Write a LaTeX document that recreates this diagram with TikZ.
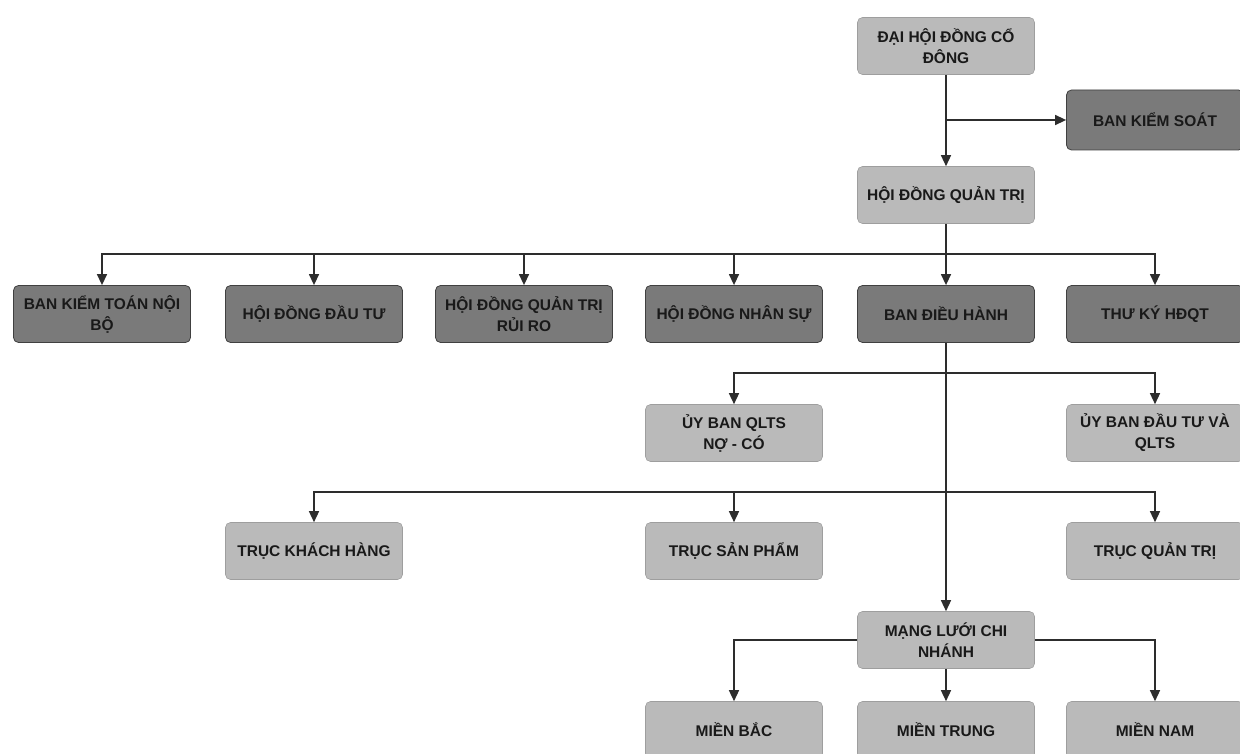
\documentclass[tikz,border=0pt]{standalone}
\usepackage{fontspec}
\setmainfont{Liberation Sans}
\usetikzlibrary{arrows.meta}
\definecolor{boxlt}{RGB}{186,186,186}
\definecolor{boxdk}{RGB}{122,122,122}
\definecolor{lnk}{RGB}{45,45,45}
\tikzset{bx/.style={minimum width=177pt, minimum height=57pt, rounded corners=5pt,
  align=center, inner sep=2pt, text=black!90,
  font=\fontsize{15.5}{21}\selectfont\bfseries}}
\tikzset{lt/.style={bx, fill=boxlt, draw=boxlt!85!black, line width=.6pt}}
\tikzset{dk/.style={bx, fill=boxdk, draw=black!75, line width=.8pt}}
\tikzset{cn/.style={draw=lnk, line width=1.4pt}}
\tikzset{ar/.style={cn, -{Triangle[length=11pt,width=10pt]}}}

\begin{document}
\begin{tikzpicture}[x=1pt,y=-1pt]
    \useasboundingbox[fill=white] (0,0) rectangle (1240,754);
    % top of the chart
    \node[lt] (dhd) at (946,46) {ĐẠI HỘI ĐỒNG CỔ\\ĐÔNG};
    \node[dk, minimum height=60pt] (bks) at (1155,120) {BAN KIỂM SOÁT};
    \node[lt] (hdqt) at (946,195) {HỘI ĐỒNG QUẢN TRỊ};
    % boards under the HDQT
    \node[dk] (kt) at (102,314) {BAN KIỂM TOÁN NỘI\\BỘ};
    \node[dk] (hdt) at (314,314) {HỘI ĐỒNG ĐẦU TƯ};
    \node[dk] (qtrr) at (524,314) {HỘI ĐỒNG QUẢN TRỊ\\RỦI RO};
    \node[dk] (hdns) at (734,314) {HỘI ĐỒNG NHÂN SỰ};
    \node[dk] (bdh) at (946,314) {BAN ĐIỀU HÀNH};
    \node[dk] (tk) at (1155,314) {THƯ KÝ HĐQT};
    % committees
    \node[lt] (qlts) at (734,433) {ỦY BAN QLTS\\NỢ - CÓ};
    \node[lt] (dtqlts) at (1155,433) {ỦY BAN ĐẦU TƯ VÀ\\QLTS};
    % axes
    \node[lt] (tkh) at (314,551) {TRỤC KHÁCH HÀNG};
    \node[lt] (tsp) at (734,551) {TRỤC SẢN PHẨM};
    \node[lt] (tqt) at (1155,551) {TRỤC QUẢN TRỊ};
    % branches
    \node[lt] (mlcn) at (946,640) {MẠNG LƯỚI CHI\\NHÁNH};
    \node[lt] (mb) at (734,730) {MIỀN BẮC};
    \node[lt] (mt) at (946,730) {MIỀN TRUNG};
    \node[lt] (mn) at (1155,730) {MIỀN NAM};

    \coordinate (j1) at (946,120);
    \coordinate (j2) at (946,254);
    \coordinate (j3) at (946,373);
    \coordinate (j4) at (946,492);

    \draw[ar] (dhd.south) -- (hdqt.north);
    \draw[ar] (j1) -- (bks.west);
    \draw[cn] (hdqt.south) -- (j2);
    \foreach \n in {kt,hdt,qtrr,hdns,tk}
      \draw[ar] (j2) -| (\n.north);
    \draw[ar] (j2) -- (bdh.north);
    \draw[ar] (bdh.south) -- (mlcn.north);
    \foreach \n in {qlts,dtqlts}
      \draw[ar] (j3) -| (\n.north);
    \foreach \n in {tkh,tsp,tqt}
      \draw[ar] (j4) -| (\n.north);
    \draw[ar] (mlcn.west) -| (mb.north);
    \draw[ar] (mlcn.south) -- (mt.north);
    \draw[ar] (mlcn.east) -| (mn.north);
\end{tikzpicture}
\end{document}
